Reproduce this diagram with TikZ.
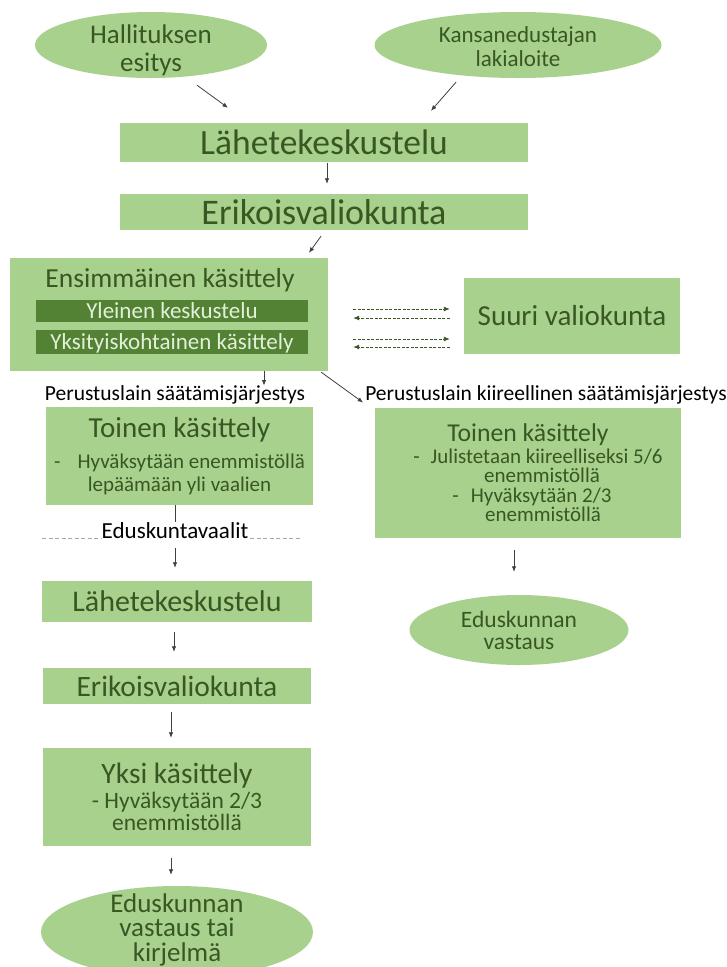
\documentclass[tikz,border=0pt]{standalone}
\usepackage{fontspec}
\setmainfont{Carlito}
\usepackage{tikz}
\usetikzlibrary{shapes.geometric}
\usetikzlibrary{arrows.meta}
\usetikzlibrary{positioning}
\definecolor{laatikko}{HTML}{A9D18E}
\definecolor{teksti}{HTML}{385723}
\definecolor{tumma}{HTML}{548235}
\definecolor{vaalea}{HTML}{E2F0D9}
\definecolor{harmaa}{HTML}{404040}
\newcommand{\koko}[2]{\fontsize{#1}{#2}\selectfont}
\lineskiplimit=-100pt
\begin{document}
\begin{tikzpicture}[x=1pt, y=-1pt,
box/.style={rectangle, fill=laatikko, text=teksti, inner sep=0pt, align=center},
soikio/.style={ellipse, fill=laatikko, text=teksti, inner xsep=0pt, inner ysep=-15pt, align=center, text depth=0pt},
ala/.style={rectangle, fill=tumma, text=vaalea, inner sep=0pt, minimum width=272, font={\koko{23}{26}}},
nuoli/.style={draw=harmaa, line width=0.8pt, -{Latex[length=5.5pt,width=4.5pt]}},
vaihto/.style={draw=teksti, line width=0.9pt, dash pattern=on 3pt off 1.5pt, -{Latex[length=6pt,width=5pt]}},
reitti/.style={text=black, inner sep=0pt, font={\koko{21.5}{24}}}]
\path[fill=white, use as bounding box] (0,0) rectangle (726,967);

\node[soikio, minimum width=232, minimum height=66, font={\koko{27}{28}}] (hall) at (151,45) {\rule{0pt}{25pt}Hallituksen\\esitys};
\node[soikio, minimum width=287, minimum height=66, font={\koko{23}{24}}] (kans) at (518,45) {\rule{0pt}{18.5pt}Kansanedustajan\\lakialoite};
\node[box, minimum width=408, minimum height=39, font={\koko{35.5}{40}}] (lah1) at (324,142.5) {Lähetekeskustelu};
\node[box, minimum width=408, minimum height=36, font={\koko{36}{40}}] (erik1) at (324,212) {Erikoisvaliokunta};

\node[box, minimum width=318, minimum height=113] (ens) at (169,314.5) {};
\node[text=teksti, inner sep=0pt, font={\koko{27.5}{30}}] (enst) at (170,280) {Ensimmäinen käsittely};
\node[ala, minimum height=22] (yl) at (172,311) {Yleinen keskustelu};
\node[ala, minimum height=24, text depth=0pt, text height=15pt] (yks) at (172,342) {Yksityiskohtainen käsittely};
\node[box, minimum width=216, minimum height=76, font={\koko{29}{32}}] (suuri) at (572,316) {Suuri valiokunta};

\foreach \s in {5.5,-24.5}
  \draw[vaihto, shorten <=25pt, shorten >=14pt] ([yshift=\s pt]ens.east) -- ([yshift=\s pt]ens.east -| suuri.west);
\foreach \s in {-3.5,-32.5}
  \draw[vaihto, shorten <=14pt, shorten >=25pt] ([yshift=\s pt]ens.east -| suuri.west) -- ([yshift=\s pt]ens.east);

\node[reitti] (psj) at (175,395) {Perustuslain säätämisjärjestys};
\node[reitti] (ks) at (546,395) {Perustuslain kiireellinen säätämisjärjestys};

\node[box, minimum width=267, minimum height=98, font={\koko{21}{23}}] (toinen1) at (179.5,456)
  {{\koko{29}{23}Toinen käsittely}\\[8pt]-\hspace{17pt}Hyväksytään enemmistöllä\\lepäämään yli vaalien};
\node[box, minimum width=306, minimum height=130, font={\koko{21}{19}}] (toinen2) at (528,473)
  {{\koko{25.7}{19}Toinen käsittely}\\[3pt]\hspace*{20pt}-\hspace{11pt}Julistetaan kiireelliseksi 5/6\\\hspace*{28pt}enemmistöllä\\[1pt]\hspace*{8pt}-\hspace{12pt}Hyväksytään 2/3\\\hspace*{30pt}enemmistöllä};

\draw[draw=gray!70, line width=0.8pt, dash pattern=on 4pt off 2.5pt] (42,538) -- (300,538);
\node[fill=white, inner sep=0pt, font={\koko{23}{26}}] (vaalit) at (175,531) {Eduskuntavaalit};

\node[box, minimum width=270, minimum height=41, font={\koko{30}{34}}] (lah2) at (177,601.5) {Lähetekeskustelu};
\node[box, minimum width=268, minimum height=36, font={\koko{29.5}{34}}] (erik2) at (177,686) {Erikoisvaliokunta};
\node[box, minimum width=268, minimum height=98, font={\koko{23.5}{22}}] (yksi) at (177,797)
  {{\koko{29.5}{22}Yksi käsittely}\\[3.5pt]- Hyväksytään 2/3\\enemmistöllä};
\node[soikio, minimum width=219, minimum height=70, font={\koko{23.5}{22}}] (vast1) at (519,630) {Eduskunnan\\vastaus};
\node[soikio, minimum width=272, minimum height=92, text depth=9pt, font={\koko{27}{24.5}}] (vast2) at (177,932) {Eduskunnan\\vastaus tai\\kirjelmä};

\draw[nuoli] ([xshift=46pt, yshift=-7pt]hall.south) -- ([xshift=-96pt, yshift=15pt]lah1.north);
\draw[nuoli] ([xshift=-62pt, yshift=-4pt]kans.south) -- ([xshift=107pt, yshift=12pt]lah1.north);
\draw[nuoli] ([xshift=3pt, yshift=-1pt]lah1.south) -- ([xshift=3pt, yshift=10pt]erik1.north);
\draw[nuoli] ([xshift=-3pt, yshift=-6pt]erik1.south) -- ([xshift=140pt, yshift=5pt]ens.north);
\draw[nuoli] ([xshift=95pt]ens.south) -- ([xshift=95pt]ens.south |- psj.north);
\draw[nuoli] ([xshift=-7pt, yshift=-1pt]ens.south east) -- ([xshift=-2pt, yshift=2pt]ks.south west);
\draw[draw=harmaa, line width=0.8pt] (toinen1.south -| vaalit.north) -- ([yshift=1pt]vaalit.north);
\draw[nuoli, shorten <=9pt, shorten >=13pt] (vaalit.south) -- (vaalit.south |- lah2.north);
\draw[nuoli, shorten <=10pt, shorten >=16pt] ([xshift=-3pt]lah2.south) -- ([xshift=-3pt]lah2.south |- erik2.north);
\draw[nuoli, shorten <=8pt, shorten >=10pt] ([xshift=-6pt]erik2.south) -- ([xshift=-6pt]erik2.south |- yksi.north);
\draw[nuoli, shorten <=12pt, shorten >=11pt] ([xshift=-6pt]yksi.south) -- ([xshift=-6pt]yksi.south |- vast2.north);
\draw[nuoli, shorten <=12pt, shorten >=23pt] ([xshift=-5pt]vast1.north |- toinen2.south) -- ([xshift=-5pt]vast1.north);
\end{tikzpicture}
\end{document}
